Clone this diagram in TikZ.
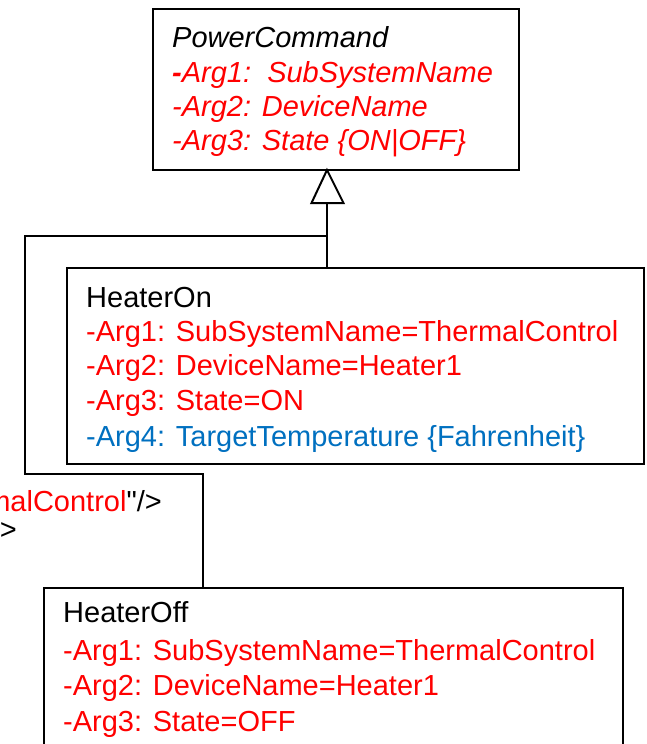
\documentclass[tikz,border=0pt]{standalone}
\usepackage{fontspec}
\setmainfont{Liberation Sans}
\definecolor{argred}{RGB}{255,0,0}
\definecolor{argblue}{RGB}{0,112,192}
\newcommand{\straightquote}{\XeTeXglyph\XeTeXcharglyph"22\relax}
\begin{document}
\begin{tikzpicture}[x=1pt,y=-1pt,
  classbox/.style={draw=black,line width=2pt,anchor=north west,inner sep=0pt,fill=white},
  txt/.style={anchor=base west,inner sep=0pt,font=\fontsize{29}{35}\selectfont},
  conn/.style={draw=black,line width=2.3pt},
  genarrow/.style={draw=black,line width=2pt,fill=white,line join=miter}]
\useasboundingbox (0,0) rectangle (646,744);
\clip (0,0) rectangle (646,744);
\fill[white] (0,0) rectangle (646,744);
% boxes
\node[classbox,minimum width=366pt,minimum height=161pt] (pc) at (152,8) {};
\node[classbox,minimum width=577pt,minimum height=196pt] (on) at (66,267) {};
\node[classbox,minimum width=579pt,minimum height=180pt] (off) at (43,587) {};
% PowerCommand text
\node[txt] (pct) at (172,47) {\itshape PowerCommand};
\node[txt,text=argred] (pc1) at (172,82) {\itshape\textbf{-}Arg1:\ \ SubSystemName};
\node[txt,text=argred] (pc2) at (172,116) {\itshape -Arg2: DeviceName};
\node[txt,text=argred] (pc3) at (172,150) {\itshape -Arg3: State \{ON|OFF\}};
% HeaterOn text
\node[txt] (ont) at (86,307) {HeaterOn};
\node[txt,text=argred] (on1) at (86,341) {-Arg1: SubSystemName=ThermalControl};
\node[txt,text=argred] (on2) at (86,375) {-Arg2: DeviceName=Heater1};
\node[txt,text=argred] (on3) at (86,410) {-Arg3: State=ON};
\node[txt,text=argblue] (on4) at (86,446) {-Arg4: TargetTemperature \{Fahrenheit\}};
% HeaterOff text
\node[txt] (offt) at (63,622) {HeaterOff};
\node[txt,text=argred] (off1) at (63,660) {-Arg1: SubSystemName=ThermalControl};
\node[txt,text=argred] (off2) at (63,695) {-Arg2: DeviceName=Heater1};
\node[txt,text=argred] (off3) at (63,731) {-Arg3: State=OFF};
% stray text at left (cut at the edge, as in the reference)
\node[anchor=base east,inner sep=0pt,font=\fontsize{29}{35}\selectfont] (stray1) at (162,511) {\textcolor{argred}{malControl}\straightquote/>};
\node[anchor=base east,inner sep=0pt,font=\fontsize{29}{35}\selectfont] (stray2) at (17,539) {/>};
% generalization
\coordinate (apex) at (327,170);
\coordinate (tbase) at (327,203);
\coordinate (junc) at (327,236);
\coordinate (c1) at (25,236);
\coordinate (c2) at (25,474);
\coordinate (c3) at (203,474);
\draw[conn] (tbase) -- (tbase |- on.north);
\draw[conn] (junc) -- (c1) -- (c2) -- (c3) -- (c3 |- off.north);
\draw[genarrow] (apex) -- (311.5,203) -- (343.5,203) -- cycle;
\end{tikzpicture}
\end{document}
